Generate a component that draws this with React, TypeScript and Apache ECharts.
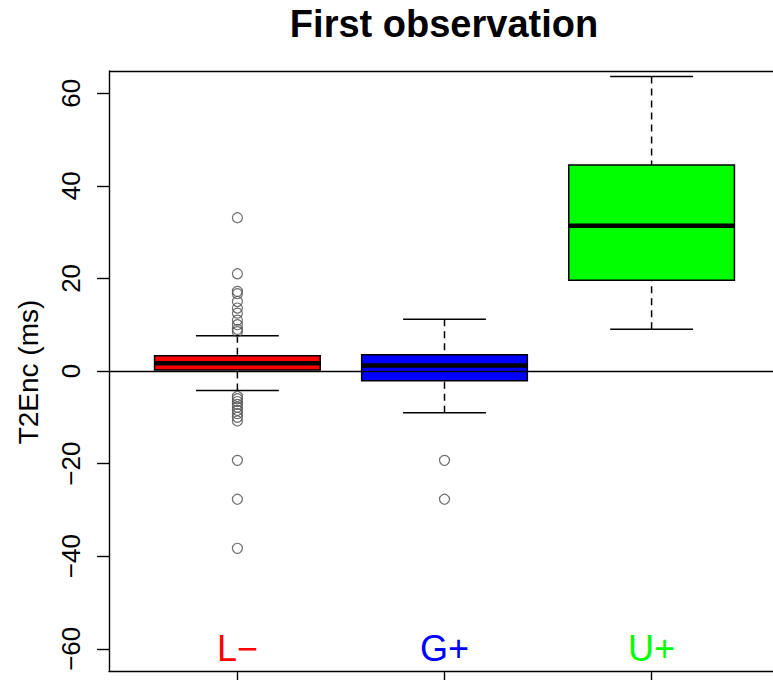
import React, { useEffect, useRef } from "react";
import * as echarts from "echarts";

const categories = ["L−", "G+", "U+"];
const boxColors = ["#FF0000", "#0000FF", "#00FF00"];
const lowWhisker = [-4.2, -9.0, 9.0];
const q1 = [0.2, -2.1, 19.6];
const median = [1.7, 1.2, 31.4];
const q3 = [3.3, 3.5, 44.5];
const highWhisker = [7.6, 11.2, 63.6];
const outliersL = [33.1, 21.0, 17.2, 16.7, 15.0, 13.6, 12.5, 11.0, 10.0, 9.0, 8.5, -5.5, -6.0, -6.6, -7.2, -7.8, -8.5, -9.2, -10.0, -10.8, -19.3, -27.7, -38.3];
const outliersG = [-19.3, -27.7];
const outliersU: number[] = [];
const yTicks = [-60, -40, -20, 0, 20, 40, 60];
const yMin = -64.8;
const yMax = 64.8;
const xMin = 0.38;
const xMax = 3.62;
const labelY = -60;

const FONT = '"Liberation Sans", Arial, sans-serif';

export default function App() {
  const ref = useRef<HTMLDivElement>(null);
  useEffect(() => {
    if (!ref.current) return;
    const chart = echarts.init(ref.current, null, { renderer: "svg" });
    const boxData = categories.map((_, i) => [i + 1, lowWhisker[i], q1[i], median[i], q3[i], highWhisker[i]]);
    const outlierData: number[][] = [];
    [outliersL, outliersG, outliersU].forEach((arr, i) => arr.forEach((v) => outlierData.push([i + 1, v])));
    const labelData = categories.map((c, i) => ({
      value: [i + 1, labelY],
      name: c,
      label: { color: boxColors[i] },
    }));
    const axisLineStyle = { color: "#000", width: 1.4 };
    chart.setOption({
      animation: false,
      grid: { left: 109, right: 120, top: 71, bottom: 9, show: false },
      xAxis: {
        type: "value",
        position: "bottom",
        min: xMin,
        max: xMax,
        axisLine: { show: true, onZero: false, lineStyle: axisLineStyle },
        axisTick: { show: true, customValues: [1, 2, 3], length: 12, lineStyle: axisLineStyle },
        axisLabel: { show: false },
        splitLine: { show: false },
      },
      yAxis: {
        type: "value",
        min: yMin,
        max: yMax,
        axisLine: { show: true, onZero: false, lineStyle: axisLineStyle },
        axisTick: { show: true, customValues: yTicks, length: 12, lineStyle: axisLineStyle },
        axisLabel: {
          customValues: yTicks,
          rotate: 90,
          fontSize: 26,
          margin: 25,
          color: "#000",
          fontFamily: FONT,
          formatter: (v: number) => String(v).replace("-", "−"),
        },
        splitLine: { show: false },
      },
      graphic: [
        {
          type: "text",
          x: 444,
          y: 24,
          style: { text: "First observation", font: `bold 38px ${FONT}`, fill: "#000", textAlign: "center", textVerticalAlign: "middle" },
        },
        {
          type: "text",
          x: 28,
          y: 372,
          rotation: Math.PI / 2,
          style: { text: "T2Enc (ms)", font: `28px ${FONT}`, fill: "#000", textAlign: "center", textVerticalAlign: "middle" },
        },
      ],
      series: [
        {
          type: "custom",
          data: boxData,
          z: 2,
          renderItem: (params: any, api: any) => {
            const x = api.value(0);
            const lo = api.coord([x, api.value(1)]);
            const b1 = api.coord([x, api.value(2)]);
            const md = api.coord([x, api.value(3)]);
            const b3 = api.coord([x, api.value(4)]);
            const hi = api.coord([x, api.value(5)]);
            const halfW = api.size([0.8, 0])[0] / 2;
            const capHalf = halfW / 2;
            const col = boxColors[params.dataIndex];
            const dashed = { stroke: "#000", lineWidth: 1.5, lineDash: [7, 5] };
            const solid = { stroke: "#000", lineWidth: 1.5 };
            return {
              type: "group",
              children: [
                { type: "line", shape: { x1: lo[0], y1: lo[1], x2: lo[0], y2: b1[1] }, style: dashed },
                { type: "line", shape: { x1: hi[0], y1: hi[1], x2: hi[0], y2: b3[1] }, style: dashed },
                { type: "line", shape: { x1: lo[0] - capHalf, y1: lo[1], x2: lo[0] + capHalf, y2: lo[1] }, style: solid },
                { type: "line", shape: { x1: hi[0] - capHalf, y1: hi[1], x2: hi[0] + capHalf, y2: hi[1] }, style: solid },
                {
                  type: "rect",
                  shape: { x: b1[0] - halfW, y: b3[1], width: 2 * halfW, height: b1[1] - b3[1] },
                  style: { fill: col, stroke: "#000", lineWidth: 1.5 },
                },
                { type: "line", shape: { x1: md[0] - halfW, y1: md[1], x2: md[0] + halfW, y2: md[1] }, style: { stroke: "#000", lineWidth: 4.5 } },
              ],
            };
          },
        },
        {
          type: "scatter",
          data: outlierData,
          symbol: "circle",
          symbolSize: 10,
          z: 3,
          itemStyle: { color: "rgba(0,0,0,0)", borderColor: "#555", borderWidth: 1.2, opacity: 0.85 },
        },
        {
          type: "line",
          data: [],
          z: 4,
          markLine: {
            silent: true,
            symbol: ["none", "none"],
            label: { show: false },
            lineStyle: { color: "#000", width: 1.4, type: "solid" },
            data: [{ yAxis: 0 }, { yAxis: yMax }],
          },
        },
        {
          type: "scatter",
          data: labelData,
          symbolSize: 0,
          z: 5,
          itemStyle: { opacity: 1 },
          label: {
            show: true,
            position: "inside",
            formatter: (p: any) => p.name,
            fontSize: 36,
            fontFamily: FONT,
          },
        },
      ],
    });
    return () => chart.dispose();
  }, []);
  return (
    <div style={{ position: "fixed", left: 0, top: 0, width: 773, height: 680, overflow: "hidden", background: "#fff" }}>
      <div ref={ref} style={{ width: 900, height: 680 }} />
    </div>
  );
}
